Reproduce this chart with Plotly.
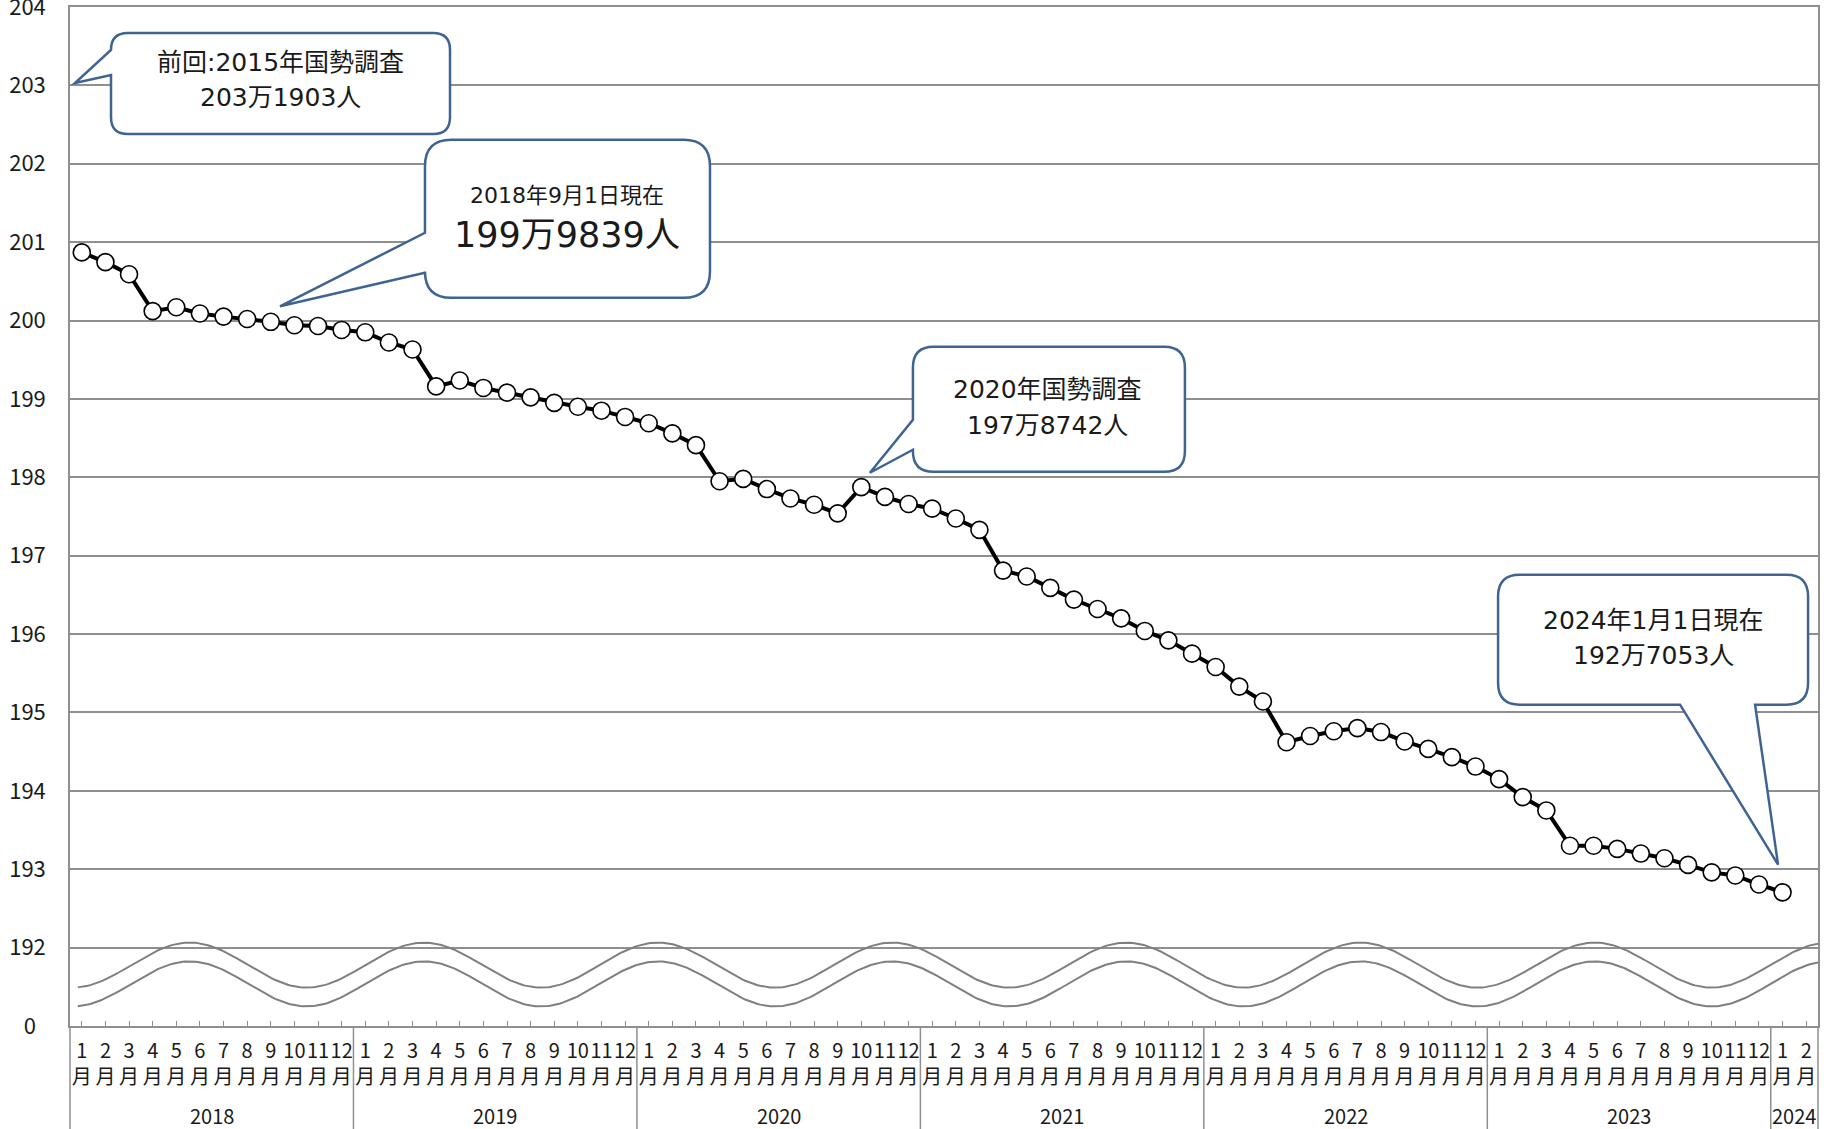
import numpy as np
import plotly.graph_objects as go

FONT = "Noto Sans CJK JP"
CALLOUT_FONT = "DejaVu Sans, Noto Sans CJK JP"
GRID = "#8f8f8f"
CALLOUT_LINE = "#3f6491"
TEXT = "#1a1a1a"

# ---- month axis: January 2018 to February 2024 ----
YEARS = [2018, 2019, 2020, 2021, 2022, 2023, 2024]
MONTHS_PER_YEAR = [12, 12, 12, 12, 12, 12, 2]
month_labels = [f"{m}<br>月" for n in MONTHS_PER_YEAR for m in range(1, n + 1)]

# ---- estimated population on the 1st of each month (万人) ----
pop_2018 = [200.87, 200.745, 200.59, 200.12, 200.17, 200.09,
            200.05, 200.02, 199.9839, 199.94, 199.93, 199.88]
pop_2019 = [199.85, 199.72, 199.63, 199.16, 199.235, 199.14,
            199.08, 199.02, 198.95, 198.90, 198.85, 198.77]
pop_2020 = [198.69, 198.56, 198.41, 197.95, 197.98, 197.85,
            197.73, 197.65, 197.54, 197.8742, 197.75, 197.66]
pop_2021 = [197.60, 197.475, 197.33, 196.81, 196.735, 196.59,
            196.44, 196.32, 196.20, 196.04, 195.92, 195.75]
pop_2022 = [195.58, 195.33, 195.14, 194.62, 194.70, 194.76,
            194.80, 194.75, 194.63, 194.535, 194.43, 194.31]
pop_2023 = [194.15, 193.92, 193.75, 193.30, 193.30, 193.26,
            193.20, 193.14, 193.055, 192.96, 192.92, 192.805]
pop_2024 = [192.7053]
population = pop_2018 + pop_2019 + pop_2020 + pop_2021 + pop_2022 + pop_2023 + pop_2024

# Census reference value (2015) and the highlighted months
CENSUS_2015 = 203.1903
SEP_2018 = 199.9839
CENSUS_2020 = 197.8742
JAN_2024 = 192.7053

# ---- y axis (broken: bottom tick stands for 0) ----
y_tick_vals = list(range(191, 205))
y_tick_text = ["0\u00a0\u00a0"] + [str(v) for v in range(192, 205)]

n_months = len(month_labels)
idx = list(range(len(population)))

fig = go.Figure()

# axis-break ornament: two parallel wavy lines between 0 and 192
wx = np.linspace(-0.17, 73.8, 700)
wave = 0.287 * np.cos(2 * np.pi * (wx - 4.568) / 9.913)
for base in (191.777, 191.537):
    fig.add_trace(go.Scatter(x=wx, y=base + wave, mode="lines",
                             line=dict(color="#7f7f7f", width=2),
                             hoverinfo="skip", showlegend=False))

fig.add_trace(go.Scatter(
    x=idx, y=population, mode="lines+markers",
    line=dict(color="black", width=4),
    marker=dict(size=17, color="white", line=dict(color="black", width=1.6)),
    showlegend=False,
))


def man_label(v):
    """199.9839 -> '199万9839人'"""
    whole = int(v)
    return f"{whole}万{round((v - whole) * 10000):04d}人"


def bubble_path(L, R, T, B, side, base_a, tip, base_b):
    """Rounded callout outline in pixel offsets (y up) with a pointer."""
    r = min(R - L, T - B) / 6.0
    p = [f"M{L + r},{T}", f"L{R - r},{T}", f"Q{R},{T} {R},{T - r}",
         f"L{R},{B + r}", f"Q{R},{B} {R - r},{B}"]
    if side == "bottom":
        p += [f"L{base_b},{B}", f"L{tip[0]},{tip[1]}", f"L{base_a},{B}"]
    p += [f"L{L + r},{B}", f"Q{L},{B} {L},{B + r}"]
    if side == "left":
        p += [f"L{L},{base_a}", f"L{tip[0]},{tip[1]}", f"L{L},{base_b}"]
    p += [f"L{L},{T - r}", f"Q{L},{T} {L + r},{T}", "Z"]
    return " ".join(p)


callouts = [
    dict(anchor=(-0.5, 203.0), body=(41, 380, 52.4, -48.6), side="left",
         base=(10.4, 35.4), tip=(5, 2.4),
         lines=[("前回:2015年国勢調査", 25, 210, 22.4),
                (man_label(CENSUS_2015), 25, 210, -12.6)]),
    dict(anchor=(8, SEP_2018), body=(154.2, 439.2, 182, 24), side="left",
         base=(49, 89), tip=(9.2, 15.5),
         lines=[("2018年9月1日現在", 22, 296.2, 126),
                (man_label(SEP_2018), 35, 296.2, 87)]),
    dict(anchor=(33, CENSUS_2020), body=(51.6, 323.6, 140.4, 15.4), side="left",
         base=(37.4, 67.4), tip=(8.6, 14.4),
         lines=[("2020年国勢調査", 25, 186.6, 97.4),
                (man_label(CENSUS_2020), 25, 186.6, 61.4)]),
    dict(anchor=(72, JAN_2024), body=(-284.5, 25.5, 317.7, 187.7), side="bottom",
         base=(-102.5, -27.5), tip=(-4.5, 27.7),
         lines=[("2024年1月1日現在", 25, -129.5, 271.7),
                (man_label(JAN_2024), 25, -129.5, 236.7)]),
]

shapes = []
annotations = []
for c in callouts:
    L, R, T, B = c["body"]
    shapes.append(dict(
        type="path", xref="x", yref="y", xsizemode="pixel", ysizemode="pixel",
        xanchor=c["anchor"][0], yanchor=c["anchor"][1],
        path=bubble_path(L, R, T, B, c["side"], c["base"][0], c["tip"], c["base"][1]),
        fillcolor="white", line=dict(color=CALLOUT_LINE, width=2.5), layer="above",
    ))
    for text, size, dx, dy in c["lines"]:
        annotations.append(dict(
            x=c["anchor"][0], y=c["anchor"][1], xref="x", yref="y",
            xshift=dx, yshift=dy, text=text, showarrow=False,
            xanchor="center", yanchor="middle",
            font=dict(family=CALLOUT_FONT, size=size, color=TEXT),
        ))

# year row under the month labels, with separators between years
start = 0
for year, n in zip(YEARS, MONTHS_PER_YEAR):
    annotations.append(dict(
        x=start + (n - 1) / 2, y=-0.0875, xref="x", yref="paper",
        text=str(year), showarrow=False, xanchor="center", yanchor="middle",
        font=dict(family=FONT, size=20, color=TEXT),
    ))
    start += n
    if start < n_months:
        shapes.append(dict(type="line", xref="x", yref="paper",
                           x0=start - 0.5, x1=start - 0.5, y0=0, y1=-0.102,
                           line=dict(color=GRID, width=1.5)))
for px in (0, 1):
    shapes.append(dict(type="line", xref="paper", yref="paper",
                       x0=px, x1=px, y0=0, y1=-0.102,
                       line=dict(color=GRID, width=1.5)))

fig.update_layout(
    width=1831, height=1129,
    margin=dict(l=70, r=13, t=7, b=103),
    paper_bgcolor="white", plot_bgcolor="white",
    font=dict(family=FONT, color=TEXT),
    shapes=shapes, annotations=annotations,
    xaxis=dict(
        range=[-0.5, n_months - 0.5], tickmode="array",
        tickvals=list(range(n_months)), ticktext=month_labels, tickangle=0,
        ticks="inside", ticklen=5, tickcolor=GRID, tickwidth=1.2,
        showgrid=False, showline=True, linecolor=GRID, linewidth=1.5,
        mirror=True, zeroline=False, ticklabelstandoff=6, automargin=False,
        tickfont=dict(family=FONT, size=20, color=TEXT),
    ),
    yaxis=dict(
        range=[191, 204], tickmode="array", tickvals=y_tick_vals,
        ticktext=y_tick_text, showgrid=True, gridcolor=GRID, gridwidth=1.5,
        showline=True, linecolor=GRID, linewidth=1.5, mirror=True,
        zeroline=False, ticks="", ticklabelstandoff=18, automargin=False,
        ticklabeloverflow="allow",
        tickfont=dict(family=FONT, size=22, color=TEXT),
    ),
)

fig.write_html("out.html")
